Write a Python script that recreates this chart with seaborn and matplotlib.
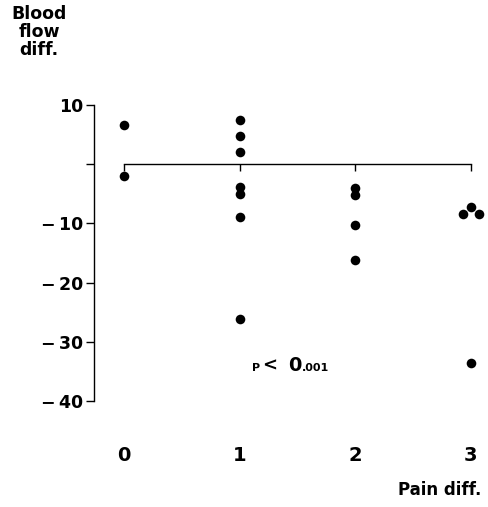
import numpy as np
import pandas as pd
import matplotlib
matplotlib.use("Agg")
import matplotlib.pyplot as plt
import seaborn as sns

# Data
pain_diff = [0, 0,
             1, 1, 1, 1, 1, 1, 1,
             2, 2, 2, 2,
             2.93, 3.0, 3.07, 3.0]
blood_flow_diff = [6.6, -2.1,
                   7.4, 4.7, 2.0, -3.8, -5.0, -9.0, -26.1,
                   -4.0, -5.3, -10.3, -16.2,
                   -8.4, -7.2, -8.4, -33.6]
x_ticks = [0, 1, 2, 3]
x_labels = ["0", "1", "2", "3"]
y_ticks = [10, 0, -10, -20, -30, -40]
y_labels = ["10", "", "\u2212\u200910", "\u2212\u200920", "\u2212\u200930", "\u2212\u200940"]

df = pd.DataFrame({"pain": pain_diff, "flow": blood_flow_diff})

sns.set_theme(style="white")
plt.rcParams["font.family"] = ["DejaVu Sans"]
plt.rcParams["text.color"] = "black"

W, H = 489, 507
fig = plt.figure(figsize=(W / 100, H / 100), dpi=100)
# axes placed so that the left spine sits at x~94px, y=10 at ~107px, y=-40 at ~402px
ax = fig.add_axes([94 / W, (H - 480) / H, (488 - 94) / W, 380 / H])

sns.scatterplot(data=df, x="pain", y="flow", color="black", s=48,
                edgecolor="black", linewidth=0, ax=ax, zorder=3)

ax.set_xlim(-0.26, 3.15)
ax.set_ylim(-53.3, 10.8)

for s in ["top", "right"]:
    ax.spines[s].set_visible(False)
ax.spines["left"].set_bounds(-40, 10)
ax.spines["bottom"].set_position(("data", 0))
ax.spines["bottom"].set_bounds(0, 3)
for s in ["left", "bottom"]:
    ax.spines[s].set_color("black")
    ax.spines[s].set_linewidth(1.0)

ax.set_yticks(y_ticks)
ax.set_yticklabels(y_labels)
ax.set_xticks(x_ticks)
ax.tick_params(axis="y", direction="out", length=6, width=1.0, pad=2,
               labelsize=12.5, colors="black", left=True)
ax.tick_params(axis="x", direction="out", length=5, width=1.0,
               labelbottom=False, bottom=True, colors="black")
for lab in ax.get_yticklabels():
    lab.set_fontweight("bold")

# x tick labels sit well below the zero line
for xv, lab in zip(x_ticks, x_labels):
    ax.text(xv, -49.1, lab, ha="center", va="center", fontsize=14,
            fontweight="bold", color="black")

ax.set_xlabel("")
ax.set_ylabel("")

fig.text(39 / W, 1 - 5 / H, "Blood\nflow\ndiff.", ha="center", va="top",
         fontsize=12.5, fontweight="bold", linespacing=1.0, color="black")
fig.text(481 / W, 1 - 495 / H, "Pain diff.", ha="right", va="baseline",
         fontsize=12, fontweight="bold", color="black")

# p-value annotation
base = 1 - 371 / H
fig.text(252 / W, base, "P", ha="left", va="baseline", fontsize=8,
         fontweight="bold", color="black")
fig.text(262 / W, base, "<", ha="left", va="baseline", fontsize=13,
         fontweight="bold", color="black")
fig.text(288 / W, base, "0", ha="left", va="baseline", fontsize=14,
         fontweight="bold", color="black")
fig.text(302 / W, base, ".001", ha="left", va="baseline", fontsize=8,
         fontweight="bold", color="black")

fig.savefig("out.png", dpi=100)
